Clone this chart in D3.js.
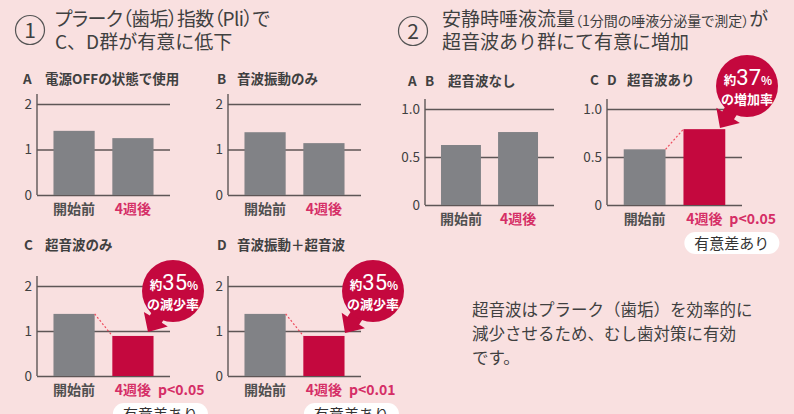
<!DOCTYPE html>
<html>
<head>
<meta charset="utf-8">
<script src="https://cdn.jsdelivr.net/npm/d3@7"></script>
<style>
  body { margin: 0; background: #f9e0e0; }
  svg { display: block; font-family: "Noto Sans CJK JP", "Noto Sans", sans-serif; }
  .palt { font-feature-settings: "palt"; }
</style>
</head>
<body>
<script>
var w = 794, h = 414;

// data
var categories = ["開始前", "4週後"];
var pliTicks = [0, 1, 2];
var salivaTicks = [0, 0.5, 1.0];
var pliA = [1.41, 1.25];
var pliB = [1.38, 1.14];
var pliC = [1.38, 0.89];
var pliD = [1.38, 0.89];
var salivaAB = [0.625, 0.76];
var salivaCD = [0.58, 0.79];

var gray = "#818286", red = "#c4083e", pink = "#d52e66", txt = "#404040", axisCol = "#5e5656";

var svg = d3.select("body").append("svg")
	.attr("width", w)
	.attr("height", h)

svg.append("rect").attr("width", w).attr("height", h).attr("fill", "#f9e0e0")

// headers
function circledNum(cx, cy, n) {
	svg.append("circle").attr("cx", cx).attr("cy", cy).attr("r", 14.5)
		.attr("fill", "none").attr("stroke", "#555").attr("stroke-width", 1.2)
	svg.append("text").attr("x", cx).attr("y", cy + 7.5).attr("text-anchor", "middle")
		.attr("font-size", 21).attr("fill", txt).text(n)
}
circledNum(30, 30, "1")
circledNum(413, 31, "2")

svg.append("text").attr("class", "palt").attr("x", 55).attr("y", 26).attr("font-size", 19)
	.attr("letter-spacing", -0.6).attr("fill", txt)
	.text("プラーク（歯垢）指数（Pli）で")
svg.append("text").attr("x", 55).attr("y", 49).attr("font-size", 19).attr("fill", txt)
	.text("C、D群が有意に低下")

var h2 = svg.append("text").attr("x", 442).attr("y", 26).attr("font-size", 19).attr("fill", txt)
h2.append("tspan").text("安静時唾液流量")
h2.append("tspan").attr("class", "palt").attr("font-size", 14).text("（1分間の唾液分泌量で測定）")
h2.append("tspan").text("が")
svg.append("text").attr("x", 442).attr("y", 49).attr("font-size", 19).attr("fill", txt)
	.text("超音波あり群にて有意に増加")

// bar panel
function panel(o) {
	var g = svg.append("g");
	var y = d3.scaleLinear().domain([0, o.max]).range([o.base, o.top]);
	var x = d3.scaleBand().domain(categories).range([o.x0, o.x1])
		.paddingInner(0.3).paddingOuter(0.28);

	var axis = d3.axisLeft(y).tickValues(o.ticks).tickFormat(o.fmt)
		.tickSize(-(o.x1 - o.x0)).tickPadding(5);
	var ag = g.append("g").attr("transform", "translate(" + o.x0 + ",0)").call(axis);
	ag.select(".domain").remove();
	ag.selectAll(".tick line").attr("stroke", axisCol).attr("stroke-width", 1.4);
	ag.selectAll(".tick text").attr("fill", txt).attr("font-size", 13.5)
		.attr("font-family", "'Noto Sans CJK JP', sans-serif");

	g.append("line")
		.attr("x1", o.x0).attr("x2", o.x0)
		.attr("y1", y(0)).attr("y2", y(o.max) - 10)
		.attr("stroke", axisCol).attr("stroke-width", 1.4)

	g.selectAll("rect.bar").data(o.values).enter().append("rect")
		.attr("class", "bar")
		.attr("x", function(d, i) { return x(categories[i]); })
		.attr("width", x.bandwidth())
		.attr("y", function(d) { return y(d); })
		.attr("height", function(d) { return y(0) - y(d); })
		.attr("fill", function(d, i) { return (o.sig && i == 1) ? red : gray; })

	if (o.sig) {
		g.append("line")
			.attr("x1", x(categories[0]) + x.bandwidth()).attr("y1", y(o.values[0]))
			.attr("x2", x(categories[1])).attr("y2", y(o.values[1]))
			.attr("stroke", "#ee4a5c").attr("stroke-width", 1.2).attr("stroke-dasharray", "2,2")
	}

	g.selectAll("text.cat").data(categories).enter().append("text")
		.attr("class", "cat")
		.attr("x", function(d) { return x(d) + x.bandwidth() / 2; })
		.attr("y", y(0) + 19)
		.attr("text-anchor", "middle")
		.attr("font-size", 14).attr("font-weight", "bold")
		.attr("fill", function(d, i) { return i == 1 ? pink : "#505050"; })
		.text(function(d) { return d; })

	if (o.p) {
		g.append("text")
			.attr("x", x(categories[1]) + x.bandwidth() / 2 + 25)
			.attr("y", y(0) + 19)
			.attr("font-size", 14).attr("font-weight", "bold").attr("fill", pink)
			.text(o.p)
		var px = x(categories[1]) + x.bandwidth() / 2 - 20;
		g.append("rect").attr("x", px).attr("y", y(0) + 27).attr("width", 95).attr("height", 22)
			.attr("rx", 11).attr("fill", "#fff")
		g.append("text").attr("x", px + 47.5).attr("y", y(0) + 43.5).attr("text-anchor", "middle")
			.attr("font-size", 15).attr("fill", "#333").text("有意差あり")
	}

	g.selectAll("text.letter").data(o.letters).enter().append("text")
		.attr("class", "letter")
		.attr("x", function(d, i) { return o.lx + i * 17; })
		.attr("y", o.ty)
		.attr("font-size", 13.5).attr("font-weight", "bold").attr("fill", txt)
		.text(function(d) { return d; })
	g.append("text").attr("x", o.tx).attr("y", o.ty)
		.attr("font-size", 13.5).attr("font-weight", "bold").attr("fill", txt)
		.text(o.title)

	return {x: x, y: y};
}

var fmtPli = d3.format("d");
var fmtSal = function(d) { return d == 0 ? "0" : d3.format(".1f")(d); };

panel({x0: 37, x1: 170, base: 195, top: 104, max: 2, ticks: pliTicks, fmt: fmtPli,
	values: pliA, letters: ["A"], lx: 23, tx: 45, ty: 84, title: "電源OFFの状態で使用"});
panel({x0: 228, x1: 361, base: 195, top: 104, max: 2, ticks: pliTicks, fmt: fmtPli,
	values: pliB, letters: ["B"], lx: 217, tx: 237, ty: 84, title: "音波振動のみ"});
panel({x0: 37, x1: 170, base: 376, top: 286, max: 2, ticks: pliTicks, fmt: fmtPli,
	values: pliC, letters: ["C"], lx: 24, tx: 45, ty: 250, title: "超音波のみ", sig: true, p: "p<0.05"});
panel({x0: 228, x1: 361, base: 376, top: 286, max: 2, ticks: pliTicks, fmt: fmtPli,
	values: pliD, letters: ["D"], lx: 217, tx: 237, ty: 250, title: "音波振動＋超音波", sig: true, p: "p<0.01"});
panel({x0: 425, x1: 554, base: 205, top: 109, max: 1, ticks: salivaTicks, fmt: fmtSal,
	values: salivaAB, letters: ["A", "B"], lx: 408, tx: 448, ty: 86, title: "超音波なし"});
panel({x0: 607, x1: 742, base: 205, top: 109, max: 1, ticks: salivaTicks, fmt: fmtSal,
	values: salivaCD, letters: ["C", "D"], lx: 590, tx: 627, ty: 85, title: "超音波あり", sig: true, p: "p<0.05"});

// badges
function badge(cx, cy, tx, ty, num, label) {
	var g = svg.append("g");
	var a = Math.atan2(ty - cy, tx - cx) * 180 / Math.PI;
	var L = Math.sqrt((tx - cx) * (tx - cx) + (ty - cy) * (ty - cy));
	var pts = [[0, -7], [L - 15, -7], [L - 15, -14], [L, 0], [L - 15, 14], [L - 15, 7], [0, 7]];
	g.append("path")
		.attr("d", d3.line()(pts) + "Z")
		.attr("transform", "translate(" + cx + "," + cy + ") rotate(" + a + ")")
		.attr("fill", red)
	g.append("circle").attr("cx", cx).attr("cy", cy).attr("r", 31).attr("fill", red)
	var t = g.append("text").attr("x", cx + 1).attr("y", cy - 1).attr("text-anchor", "middle")
		.attr("fill", "#fff").attr("font-weight", "bold")
	t.append("tspan").attr("font-size", 12.5).text("約")
	t.append("tspan").attr("font-size", 22).attr("font-weight", "normal").attr("font-family", "Roboto, sans-serif").text(num)
	t.append("tspan").attr("font-size", 11.5).text("%")
	g.append("text").attr("x", cx).attr("y", cy + 18).attr("text-anchor", "middle")
		.attr("fill", "#fff").attr("font-size", 13).attr("font-weight", "bold").text(label)
}
badge(173, 291, 148, 332, "35", "の減少率");
badge(373, 291, 345, 333, "35", "の減少率");
badge(747, 86, 720, 128, "37", "の増加率");

// note
var note = ["超音波はプラーク（歯垢）を効率的に", "減少させるため、むし歯対策に有効", "です。"];
svg.selectAll("text.note").data(note).enter().append("text")
	.attr("class", "note")
	.attr("x", 472).attr("y", function(d, i) { return 316 + i * 24; })
	.attr("font-size", 16.5).attr("fill", txt)
	.text(function(d) { return d; })
</script>
</body>
</html>
